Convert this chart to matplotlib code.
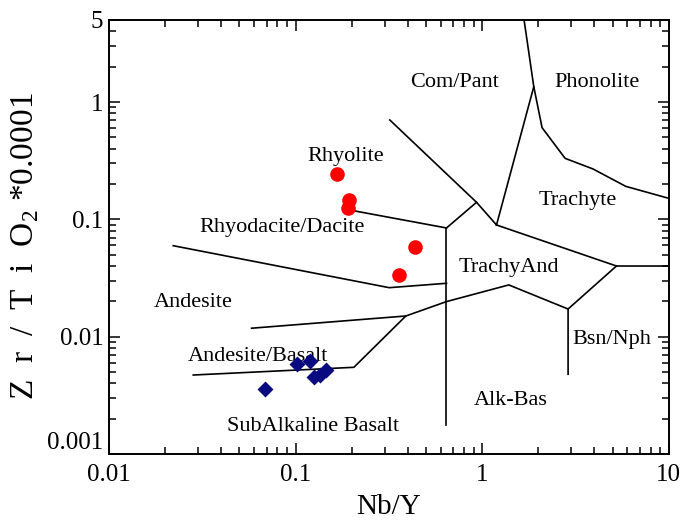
import matplotlib
matplotlib.use("Agg")
import matplotlib.pyplot as plt
from matplotlib.ticker import LogLocator, NullFormatter, FixedLocator, FixedFormatter

plt.rcParams['font.family'] = ['Liberation Serif', 'DejaVu Serif']
plt.rcParams['mathtext.fontset'] = 'custom'
plt.rcParams['mathtext.rm'] = 'Liberation Serif'

# samples: Nb/Y vs Zr/TiO2*0.0001
felsic_nby = [0.166, 0.194, 0.190, 0.436, 0.359]
felsic_zrti = [0.243, 0.146, 0.124, 0.0578, 0.0335]
mafic_nby = [0.0688, 0.1023, 0.1194, 0.1262, 0.135, 0.1449]
mafic_zrti = [0.00356, 0.00585, 0.0062, 0.0045, 0.00467, 0.00515]

# field boundaries (Winchester & Floyd 1977), each a polyline of (Nb/Y, Zr/TiO2)
boundaries = [
    [(1.678, 5.0), (1.891, 1.35), (2.095, 0.604), (2.783, 0.331),
     (3.931, 0.2685), (5.884, 0.191), (10.0, 0.151)],
    [(1.891, 1.35), (1.194, 0.0895)],
    [(0.32, 0.7025), (0.933, 0.1397), (1.194, 0.0895)],
    [(0.933, 0.1397), (0.644, 0.0844)],
    [(0.2037, 0.1185), (0.644, 0.0844)],
    [(0.644, 0.0844), (0.644, 0.00177)],
    [(1.194, 0.0895), (5.245, 0.040), (10.0, 0.040)],
    [(5.245, 0.040), (2.888, 0.0172), (2.888, 0.00478)],
    [(2.888, 0.0172), (1.389, 0.0276), (0.644, 0.0199), (0.39, 0.015),
     (0.2054, 0.00548), (0.0283, 0.00471)],
    [(0.39, 0.015), (0.0581, 0.0118)],
    [(0.0221, 0.0596), (0.3175, 0.02615), (0.644, 0.0285)],
]

field_names = ["Com/Pant", "Phonolite", "Rhyolite", "Trachyte", "Rhyodacite/Dacite",
               "TrachyAnd", "Andesite", "Bsn/Nph", "Andesite/Basalt", "Alk-Bas",
               "SubAlkaline Basalt"]
field_x = [0.714, 4.11, 0.186, 3.25, 0.0845, 1.389, 0.0282, 4.95, 0.0629, 1.424, 0.124]
field_y = [1.48, 1.48, 0.34, 0.146, 0.0844, 0.0385, 0.0194, 0.00937, 0.00671, 0.00283, 0.00173]

fig = plt.figure(figsize=(6.81, 5.22), dpi=100)
ax = fig.add_axes([0.160, 0.1303, 0.822, 0.8314])
ax.set_xscale('log')
ax.set_yscale('log')
ax.set_xlim(0.01, 10)
ax.set_ylim(0.001, 5)

for line in boundaries:
    xs, ys = zip(*line)
    ax.plot(xs, ys, color='black', lw=1.2, zorder=2)

for name, x, y in zip(field_names, field_x, field_y):
    ax.text(x, y, name, fontsize=16, ha='center', va='center', zorder=3)

ax.plot(felsic_nby, felsic_zrti, 'o', color='#ff0000', ms=10.5, mec='none', zorder=4)
ax.plot(mafic_nby, mafic_zrti, 'D', color='#0a0a80', ms=8, mec='none', zorder=4)

ax.xaxis.set_major_locator(FixedLocator([0.01, 0.1, 1, 10]))
ax.xaxis.set_major_formatter(FixedFormatter(['0.01', '0.1', '1', '10']))
ax.xaxis.set_minor_locator(LogLocator(base=10, subs=range(2, 10)))
ax.xaxis.set_minor_formatter(NullFormatter())
ax.yaxis.set_major_locator(FixedLocator([0.001, 0.01, 0.1, 1, 5]))
ax.yaxis.set_major_formatter(FixedFormatter(['0.001', '0.01', '0.1', '1', '5']))
ax.yaxis.set_minor_locator(LogLocator(base=10, subs=range(2, 10)))
ax.yaxis.set_minor_formatter(NullFormatter())

ax.tick_params(which='both', direction='in', top=True, right=True, width=1.1)
ax.tick_params(which='major', length=8, labelsize=18)
ax.tick_params(which='minor', length=5)
ax.tick_params(axis='x', which='major', pad=7)
ax.tick_params(axis='y', which='major', pad=4)
for s in ax.spines.values():
    s.set_linewidth(1.4)

# nudge the lowest y label up so it clears the 0.01 on the x axis
ylabels = ax.get_yticklabels()
ylabels[0].set_va('bottom')

ax.set_xlabel('Nb/Y', fontsize=21, labelpad=6)
ax.set_ylabel('Z  r  /  T  i  O$_2$ *0.0001', fontsize=24)
ax.yaxis.set_label_coords(-0.122, 0.478)

fig.savefig('out.png', dpi=100)
